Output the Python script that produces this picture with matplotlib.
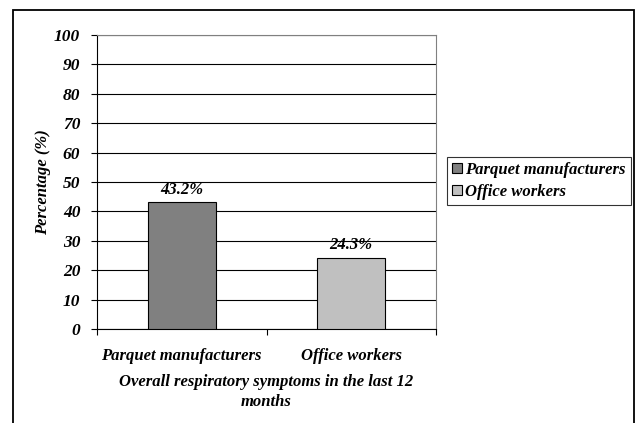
import matplotlib.pyplot as plt
from matplotlib.patches import Rectangle, Patch

# data
groups = ["Parquet manufacturers", "Office workers"]
values = [43.2, 24.3]
colors = ["#808080", "#C0C0C0"]
yticks = list(range(0, 101, 10))

plt.rcParams['font.family'] = ['Liberation Serif', 'DejaVu Serif']
plt.rcParams['font.weight'] = 'bold'
plt.rcParams['font.style'] = 'italic'
plt.rcParams['axes.labelweight'] = 'bold'

W, H = 637, 423
fig = plt.figure(figsize=(W / 100, H / 100), dpi=100)

# outer chart border (bottom edge runs off the image)
fig.patches.append(Rectangle((13 / W, -0.05), (634 - 13) / W, (H - 10) / H + 0.05,
                             transform=fig.transFigure, fill=False,
                             edgecolor='black', linewidth=1.3))

ax = fig.add_axes([97 / W, (H - 329) / H, (436 - 97) / W, (329 - 35) / H])

x = [0.5, 1.5]
bars = ax.bar(x, values, width=0.4, color=colors, edgecolor='black', linewidth=0.8, zorder=3)
for xi, v in zip(x, values):
    ax.text(xi, v + 1.5, f"{v}%", ha='center', va='bottom', fontsize=12,
            fontweight='bold', fontstyle='italic')

ax.set_xlim(0, 2)
ax.set_ylim(0, 100)
ax.set_yticks(yticks)
ax.set_yticklabels([str(t) for t in yticks], fontsize=12.5)
ax.yaxis.grid(True, color='black', linewidth=0.8, zorder=0)
ax.set_axisbelow(True)

# category ticks at boundaries, labels at centers
ax.set_xticks([0, 1, 2])
ax.set_xticklabels([])
ax.set_xticks(x, minor=True)
ax.set_xticklabels(groups, minor=True, fontsize=12)
ax.tick_params(axis='x', which='minor', length=0, pad=14)
ax.tick_params(axis='x', which='major', length=4, direction='out')
ax.tick_params(axis='y', length=4, direction='out', pad=8)

for side in ['top', 'right']:
    ax.spines[side].set_color('#808080')
for side in ['left', 'bottom']:
    ax.spines[side].set_color('black')

ax.set_ylabel("Percentage (%)", fontsize=12, fontweight='bold', labelpad=2)
ax.set_xlabel("Overall respiratory symptoms in the last 12\nmonths", fontsize=12,
              fontweight='bold', labelpad=7, linespacing=1.3)

handles = [Patch(facecolor=c, edgecolor='black', linewidth=0.8) for c in colors]
leg = fig.legend(handles, groups, loc='upper left',
                 bbox_to_anchor=(447 / W, (H - 157) / H), fontsize=12,
                 frameon=True, fancybox=False, edgecolor='black',
                 handlelength=0.6, handleheight=0.6, handletextpad=0.2,
                 borderpad=0.3, labelspacing=0.35, borderaxespad=0)
leg.get_frame().set_linewidth(0.8)

fig.savefig("out.png", dpi=100)
